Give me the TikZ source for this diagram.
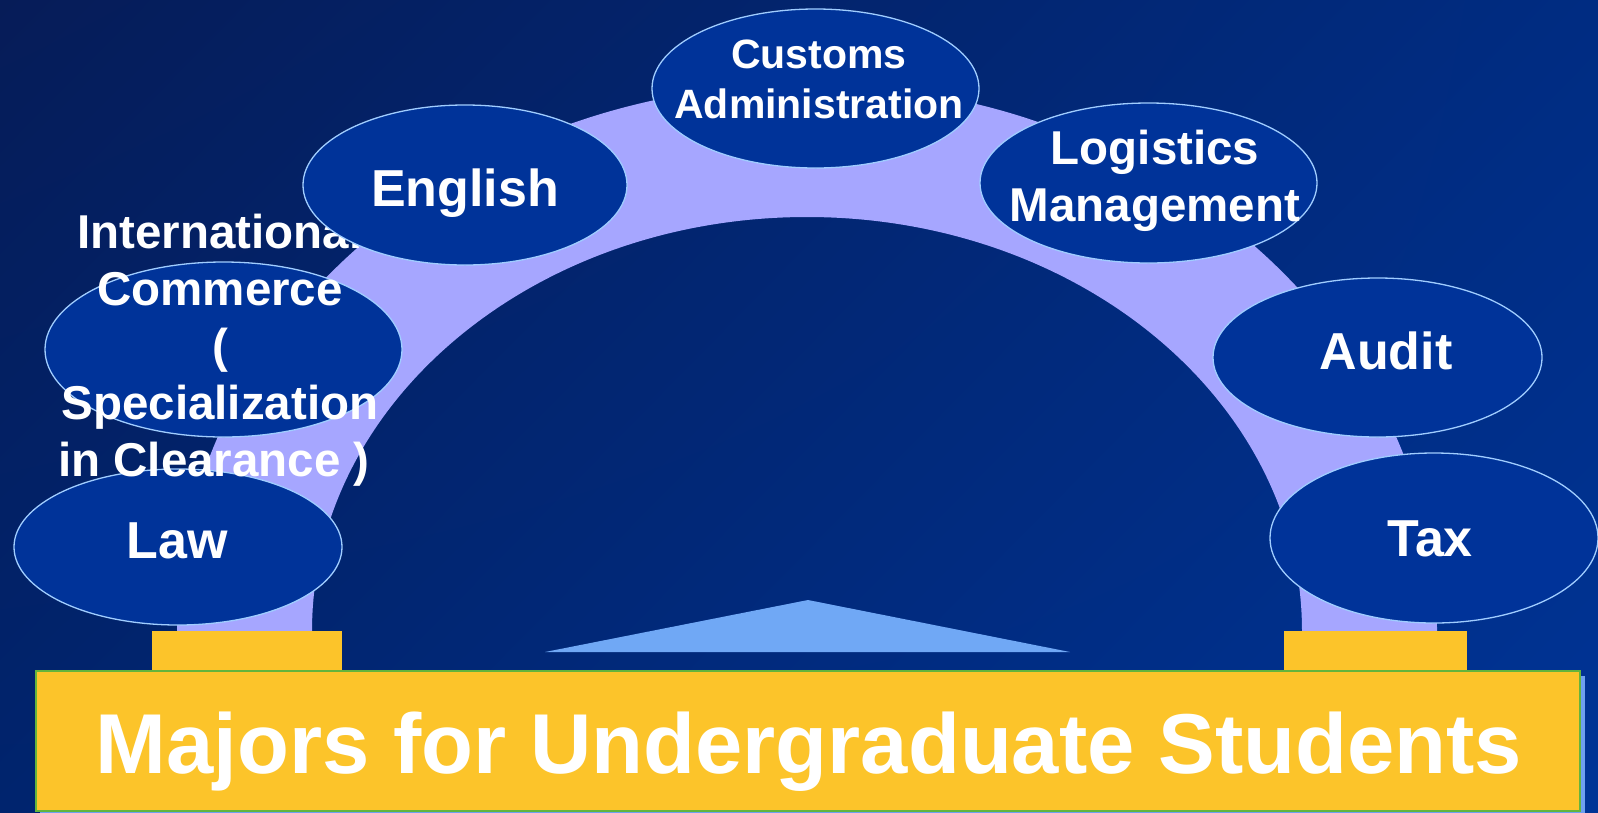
\documentclass[tikz,border=0pt]{standalone}
\usepackage{fontspec}
\setmainfont{Liberation Sans}
\usepackage{tikz}
\usetikzlibrary{shapes.geometric,shadings}

\definecolor{bgtl}{RGB}{6,28,88}
\definecolor{bgtr}{RGB}{0,44,130}
\definecolor{bgbl}{RGB}{0,36,110}
\definecolor{bgbr}{RGB}{0,52,150}
\definecolor{archlav}{RGB}{166,166,255}
\definecolor{ovalblue}{RGB}{0,51,153}
\definecolor{ovaledge}{RGB}{160,205,255}
\definecolor{baryellow}{RGB}{252,196,42}
\definecolor{bargreen}{RGB}{100,180,60}
\definecolor{barshadow}{RGB}{110,160,240}
\definecolor{roofblue}{RGB}{112,168,245}

\newcommand{\majorbig}{\fontsize{52}{62}\selectfont\bfseries}
\newcommand{\majormid}{\fontsize{47.5}{57}\selectfont\bfseries}
\newcommand{\majorsmall}{\fontsize{41}{50}\selectfont\bfseries}
\newcommand{\majortitle}{\fontsize{85}{100}\selectfont\bfseries}

\begin{document}
\begin{tikzpicture}[x=1pt, y=-1pt,
	major/.style={shape=ellipse, fill=ovalblue, draw=ovaledge, line width=1.3pt, inner sep=0pt},
	majortext/.style={text=white, align=center, anchor=north, inner sep=0pt},
	pillar/.style={fill=baryellow},
	]
	\useasboundingbox (0,0) rectangle (1598,812);
	\shade [upper left=bgtl, upper right=bgtr, lower left=bgbl, lower right=bgbr] (0,0) rectangle (1598,812);
	
	% arch and roof
	\fill [archlav] (177,631) arc [start angle=180, end angle=0, x radius=630pt, y radius=547pt]
		-- (1302,631) arc [start angle=0, end angle=180, x radius=495pt, y radius=414pt] -- cycle;
	\fill [roofblue] (545,652) -- (808,600) -- (1070,652) -- cycle;
	
	% base
	\fill [pillar] (152,631) rectangle (342,671);
	\fill [pillar] (1284,631) rectangle (1467,671);
	\fill [barshadow] (40,676) rectangle (1585,818);
	\node [fill=baryellow, draw=bargreen, line width=1.5pt, minimum width=1544pt, minimum height=140pt, inner sep=0pt] (base) at (808,741) {};
	\node [majortext, font=\majortitle] (title) at (809,712) {Majors for Undergraduate Students};
	
	% majors
	\node [major, minimum width=328pt, minimum height=156pt] (law) at (178,547) {};
	\node [majortext, font=\majorbig] (lawtxt) at (177,523) {Law};
	
	\node [major, minimum width=357pt, minimum height=175pt] (intl) at (223.5,349.5) {};
	\node [majortext, font=\majormid] (intltxt) at (220,214) {International\\Commerce\\(\\Specialization\\in Clearance )\hspace*{12pt}};
	
	\node [major, minimum width=324pt, minimum height=160pt] (english) at (465,185) {};
	\node [majortext, font=\majorbig] (englishtxt) at (465,169) {English};
	
	\node [major, minimum width=327pt, minimum height=159pt] (customs) at (815.5,88.5) {};
	\node [majortext, font=\majorsmall] (customstxt) at (819,40) {Customs\\Administration};
	
	\node [major, minimum width=337pt, minimum height=160pt] (logistics) at (1148.5,183) {};
	\node [majortext, font=\majormid] (logisticstxt) at (1155,130) {Logistics\\Management};
	
	\node [major, minimum width=329pt, minimum height=159pt] (audit) at (1377.5,357.5) {};
	\node [majortext, font=\majorbig] (audittxt) at (1386,332) {Audit};
	
	\node [major, minimum width=328pt, minimum height=170pt] (tax) at (1434,538) {};
	\node [majortext, font=\majorbig] (taxtxt) at (1430,521) {Tax};
	
\end{tikzpicture}
\end{document}
